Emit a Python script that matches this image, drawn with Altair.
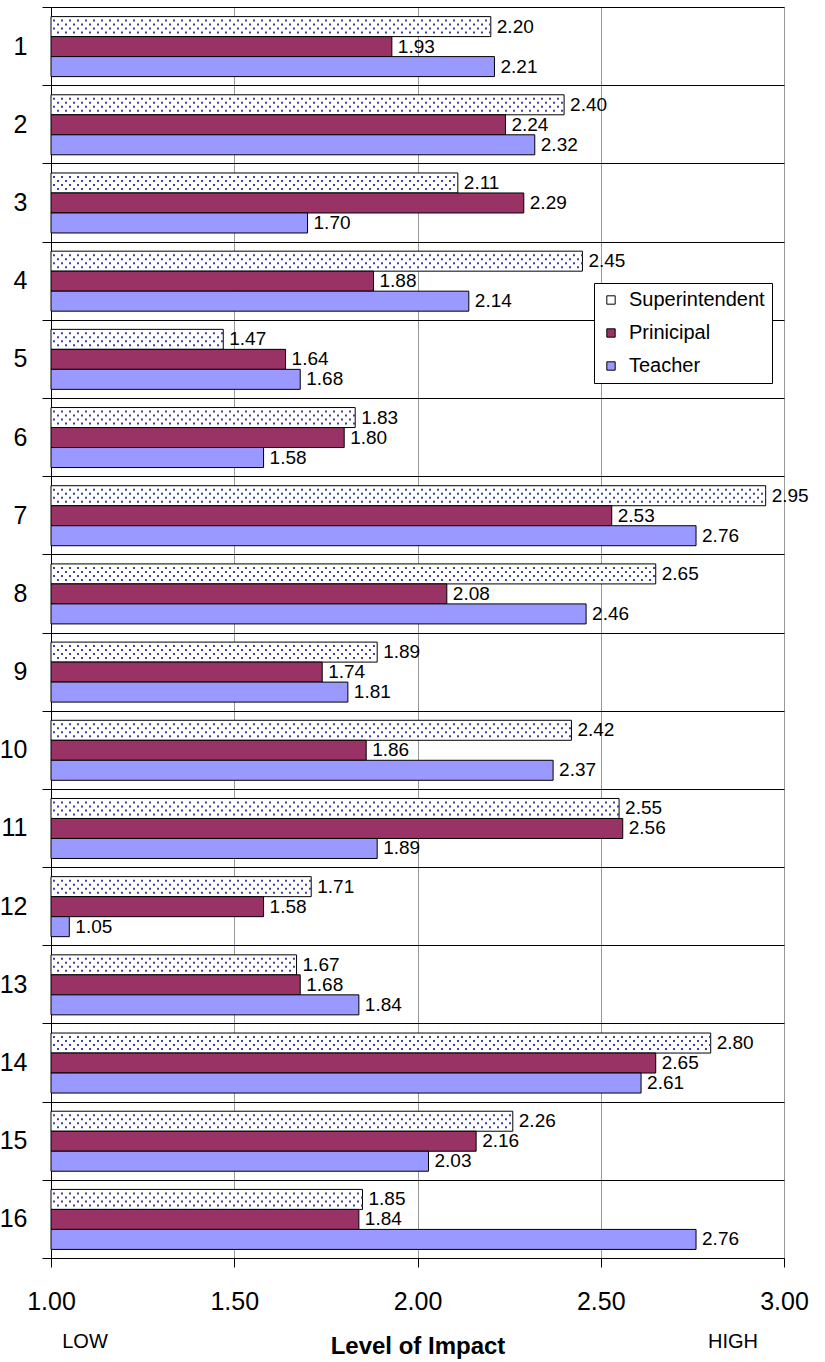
import altair as alt
import pandas as pd

# Survey items and the three respondent groups
items = [str(i) for i in range(1, 17)]
groups = ["Superintendent", "Prinicipal", "Teacher"]
group_colors = ["#ffffff", "#993366", "#9999ff"]

# Mean level-of-impact scores per item
superintendent = [2.20, 2.40, 2.11, 2.45, 1.47, 1.83, 2.95, 2.65,
                  1.89, 2.42, 2.55, 1.71, 1.67, 2.80, 2.26, 1.85]
principal = [1.93, 2.24, 2.29, 1.88, 1.64, 1.80, 2.53, 2.08,
             1.74, 1.86, 2.56, 1.58, 1.68, 2.65, 2.16, 1.84]
teacher = [2.21, 2.32, 1.70, 2.14, 1.68, 1.58, 2.76, 2.46,
           1.81, 2.37, 1.89, 1.05, 1.84, 2.61, 2.03, 2.76]

x_ticks = [1.0, 1.5, 2.0, 2.5, 3.0]
SCALE_MIN, SCALE_MAX = 1, 3

rows = []
for g, vals in zip(groups, [superintendent, principal, teacher]):
    for item, v in zip(items, vals):
        rows.append({"item": item, "group": g, "value": v})
df = pd.DataFrame(rows)

FONT = "Liberation Sans"
W, H = 733, 1251
BAR_H = 20
# vertical pixel shift of each group's bar inside an item's band
offsets = {"Superintendent": -19.5, "Prinicipal": 0.5, "Teacher": 20.5}

x_scale = alt.Scale(domain=[SCALE_MIN, SCALE_MAX], zero=False, nice=False)
x_axis = alt.Axis(
    values=x_ticks, format=".2f", labelFontSize=25, labelColor="black",
    labelFlush=False, labelOverlap=False, labelPadding=22,
    tickSize=9, tickColor="black", domainColor="black",
    grid=True, gridColor="#999999", gridWidth=1,
    title="Level of Impact", titleFontSize=24, titleFontWeight="bold",
    titleColor="black", titlePadding=20,
)
y_axis = alt.Axis(
    title=None, labelFontSize=25, labelColor="black", labelPadding=15,
    tickBand="extent", tickSize=9, tickColor="black",
    domainColor="black", grid=True, gridColor="black", gridWidth=1,
)
y_enc = alt.Y("item:N", sort=items,
              scale=alt.Scale(domain=items, paddingInner=0, paddingOuter=0),
              axis=y_axis)
color_enc = alt.Color(
    "group:N",
    scale=alt.Scale(domain=groups, range=group_colors),
    legend=alt.Legend(
        title=None, orient="none", legendX=543, legendY=276,
        labelFontSize=20, labelColor="black", labelOffset=8,
        symbolType="square", symbolSize=70, symbolStrokeColor="black",
        symbolStrokeWidth=1, strokeColor="black", fillColor="white",
        padding=7, rowPadding=13,
    ),
)


def subset(g):
    return (alt.Chart(df)
            .transform_filter(alt.datum.group == g)
            .transform_calculate(start=str(SCALE_MIN)))


layers = []

# bars, drawn from the low end of the scale
for g in groups:
    layers.append(
        subset(g).mark_bar(height=BAR_H, yOffset=offsets[g],
                           stroke="black", strokeWidth=1).encode(
            x=alt.X("value:Q", scale=x_scale, axis=x_axis),
            x2=alt.X2("start:Q"),
            y=y_enc,
            color=color_enc,
        )
    )

# dotted texture for the superintendent bars: staggered rows of dots
dot_rows = [(-25.5, 6), (-21.5, 2), (-17.5, 6), (-13.5, 2)]
for dy, phase in dot_rows:
    layers.append(
        subset("Superintendent").mark_rule(
            yOffset=dy, strokeDash=[2, 6], strokeDashOffset=phase,
            strokeWidth=2, color="#4040a4",
        ).encode(
            x=alt.X("start:Q", scale=x_scale, axis=x_axis),
            x2=alt.X2("value:Q"),
            y=y_enc,
        )
    )

# value labels
for g in groups:
    layers.append(
        subset(g).mark_text(align="left", baseline="middle", dx=6,
                            yOffset=offsets[g], fontSize=19,
                            color="black", font=FONT).encode(
            x=alt.X("value:Q", scale=x_scale, axis=x_axis),
            y=y_enc,
            text=alt.Text("value:Q", format=".2f"),
        )
    )

# scale end captions under the axis
ends = pd.DataFrame({"label": ["LOW", "HIGH"]})
for lab, px in [("LOW", 34), ("HIGH", 682)]:
    layers.append(
        alt.Chart(ends).transform_filter(alt.datum.label == lab)
        .mark_text(fontSize=20, baseline="middle", align="center",
                   color="black", font=FONT)
        .encode(x=alt.value(px), y=alt.value(H + 84), text="label:N")
    )

chart = alt.layer(*layers).properties(
    width=W, height=H,
    autosize=alt.AutoSizeParams(type="none"),
    padding={"left": 51, "top": 7, "right": 41, "bottom": 104},
).configure(
    font=FONT,
).configure_view(
    stroke="#999999", strokeWidth=1,
)

chart.save("out.html", embed_options={"renderer": "svg", "actions": False})
